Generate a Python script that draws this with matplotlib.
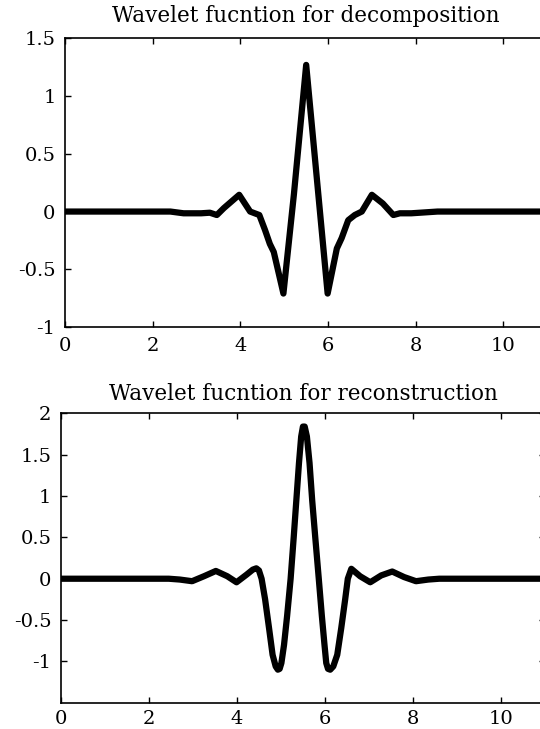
import numpy as np
import matplotlib
matplotlib.use('Agg')
import matplotlib.pyplot as plt

# decomposition wavelet
x_dec = [0, 2.4, 2.7, 3.1, 3.3, 3.46, 3.62, 3.97, 4.22, 4.43, 4.56, 4.67,
         4.76, 4.98, 5.22, 5.50, 5.99, 6.2, 6.31, 6.46, 6.61, 6.77, 7.0,
         7.25, 7.49, 7.64, 7.9, 8.3, 8.5, 11]
y_dec = [0, 0, -0.015, -0.015, -0.01, -0.03, 0.03, 0.145, 0.0, -0.03, -0.16,
         -0.28, -0.35, -0.71, 0.15, 1.27, -0.71, -0.32, -0.23, -0.075, -0.03,
         0.0, 0.145, 0.07, -0.03, -0.015, -0.015, -0.005, 0, 0]

# reconstruction wavelet
x_rec = [0, 2.45, 2.7, 2.98, 3.25, 3.52, 3.78, 3.99, 4.22, 4.36, 4.44, 4.5,
         4.56, 4.64, 4.73, 4.81, 4.88, 4.93, 4.97, 5.01, 5.07, 5.14, 5.22,
         5.29, 5.35, 5.41, 5.46, 5.5, 5.54, 5.59, 5.65, 5.71, 5.78, 5.86,
         5.93, 5.99, 6.03, 6.07, 6.12, 6.19, 6.28, 6.37, 6.46, 6.52, 6.6,
         6.8, 7.03, 7.28, 7.53, 7.8, 8.07, 8.35, 8.6, 11]
y_rec = [0, 0, -0.01, -0.03, 0.03, 0.094, 0.03, -0.043, 0.05, 0.11, 0.126,
         0.1, 0.0, -0.25, -0.6, -0.92, -1.06, -1.10, -1.09, -1.02, -0.8,
         -0.45, 0.0, 0.5, 0.95, 1.4, 1.72, 1.84, 1.84, 1.72, 1.4, 0.95, 0.5,
         0.0, -0.45, -0.8, -1.02, -1.09, -1.10, -1.06, -0.92, -0.6, -0.25,
         0.0, 0.12, 0.03, -0.043, 0.04, 0.087, 0.02, -0.03, -0.01, 0, 0]

plt.rcParams['font.family'] = ['DejaVu Serif']
plt.rcParams['font.size'] = 14

fig = plt.figure(figsize=(5.4, 7.29), dpi=100)
ax1 = fig.add_axes([0.121, 0.5514, 0.892, 0.396])
ax2 = fig.add_axes([0.113, 0.036, 0.896, 0.397])

def style(ax, ylim, yticks, ylabels, title, pad, xpad):
    ax.set_xlim(0, 11)
    ax.set_ylim(*ylim)
    ax.set_xticks([0, 2, 4, 6, 8, 10])
    ax.set_yticks(yticks)
    ax.set_yticklabels(ylabels)
    ax.tick_params(direction='in', length=4, width=1, top=True, right=True,
                   labelsize=14)
    ax.tick_params(axis='x', pad=xpad)
    ax.tick_params(axis='y', pad=7)
    for s in ax.spines.values():
        s.set_linewidth(1.2)
    ax.set_title(title, fontsize=15.5, pad=pad)

ax1.plot(x_dec, y_dec, 'k-', lw=4.5, solid_joinstyle='round')
style(ax1, (-1, 1.5), [-1, -0.5, 0, 0.5, 1, 1.5],
      ['-1', '-0.5', '0', '0.5', '1', '1.5'],
      'Wavelet fucntion for decomposition', 12, 7)

ax2.plot(x_rec, y_rec, 'k-', lw=4.5, solid_joinstyle='round')
style(ax2, (-1.5, 2), [-1, -0.5, 0, 0.5, 1, 1.5, 2],
      ['-1', '-0.5', '0', '0.5', '1', '1.5', '2'],
      'Wavelet fucntion for reconstruction', 9.5, 5)

fig.savefig('out.png', dpi=100)
